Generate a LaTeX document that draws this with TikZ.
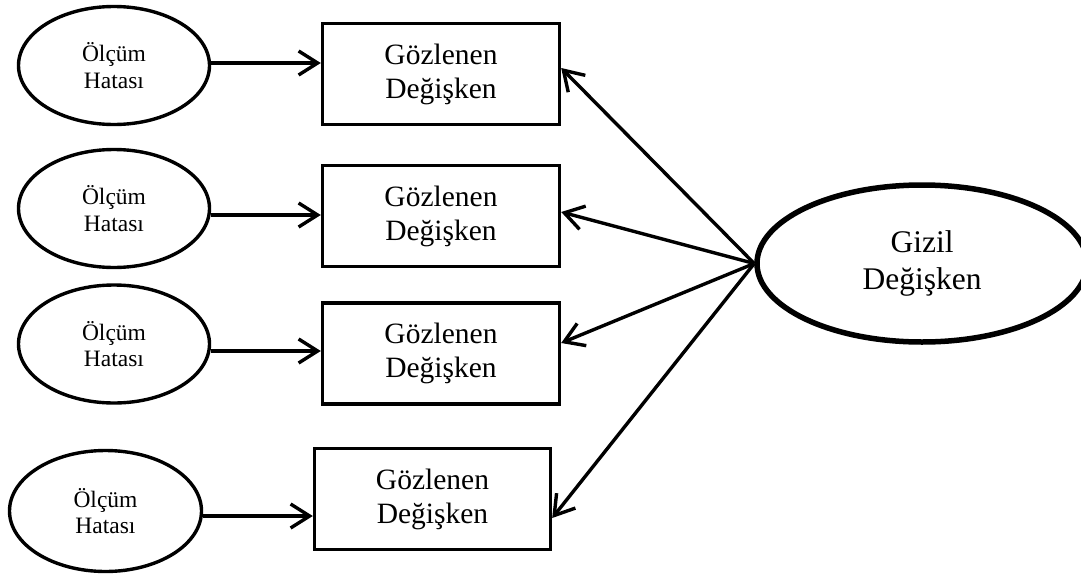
\documentclass[tikz,border=0pt]{standalone}
\usepackage{fontspec}
\setmainfont{Liberation Serif}
\usetikzlibrary{shapes.geometric,arrows.meta}
\begin{document}
\begin{tikzpicture}[x=1pt,y=-1pt,
  err/.style={ellipse, draw, line width=3.4pt, minimum width=191pt, minimum height=118pt,
    inner sep=0pt, align=center, font=\fontsize{23.5}{26.5}\selectfont},
  obs/.style={rectangle, draw, line width=3.4pt, minimum width=237pt, minimum height=101pt,
    inner sep=0pt, align=center, font=\fontsize{29.5}{34}\selectfont},
  lat/.style={ellipse, draw, line width=5.5pt, minimum width=330pt, minimum height=157pt,
    inner sep=0pt, align=center, font=\fontsize{31.5}{37}\selectfont},
  arr/.style={line width=3.4pt, -{Straight Barb[length=19pt,width=24pt,line width=3.4pt]}}
]
\useasboundingbox (0,0) rectangle (1081,573);

% measurement errors
\node[err] (e1) at (114,65.5) {Ölçüm\\Hatası};
\node[err] (e2) at (114,208.5) {Ölçüm\\Hatası};
\node[err] (e3) at (114,344) {Ölçüm\\Hatası};
\node[err, minimum width=192pt, minimum height=121pt] (e4) at (105.5,511) {Ölçüm\\Hatası};

% observed variables
\node[obs] (r1) at (441,74) {Gözlenen\\Değişken};
\node[obs] (r2) at (441,216) {Gözlenen\\Değişken};
\node[obs] (r3) at (441,353.5) {Gözlenen\\Değişken};
\node[obs, minimum width=236pt] (r4) at (432.5,499) {Gözlenen\\Değişken};

% latent variable
\node[lat] (lv) at (922,263.5) {Gizil\\Değişken};

% error -> observed
\coordinate (a1) at ([yshift=2.5pt]e1.east);
\coordinate (a2) at ([yshift=-6.5pt]e2.east);
\coordinate (a3) at ([yshift=-7pt]e3.east);
\coordinate (a4) at ([yshift=-5pt]e4.east);
\draw[arr] (a1) -- (a1 -| r1.west);
\draw[arr] (a2) -- (a2 -| r2.west);
\draw[arr] (a3) -- (a3 -| r3.west);
\draw[arr] (a4) -- (a4 -| r4.west);

% latent -> observed
\draw[arr] (lv.west) -- ([yshift=6pt]r1.east);
\draw[arr] (lv.west) -- ([yshift=4pt]r2.east);
\draw[arr] (lv.west) -- ([yshift=10.5pt]r3.east);
\draw[arr] (lv.west) -- ([yshift=-19pt]r4.east);
\end{tikzpicture}
\end{document}
